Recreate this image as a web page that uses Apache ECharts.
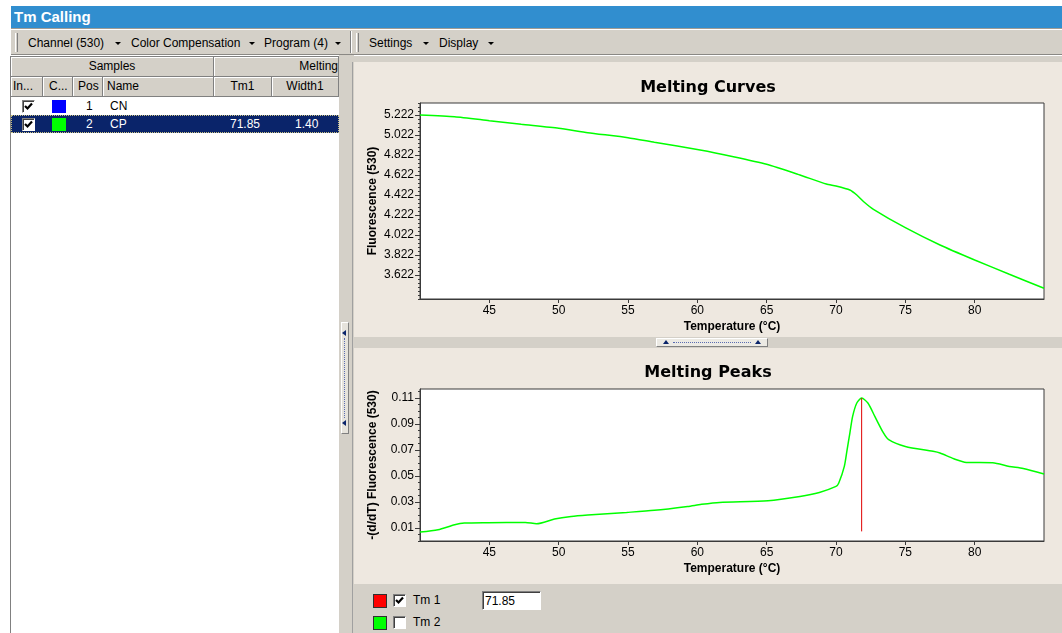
<!DOCTYPE html>
<html><head><meta charset="utf-8">
<script src="https://cdn.jsdelivr.net/npm/echarts@6/dist/echarts.min.js"></script>
<style>
body{margin:0;width:1062px;height:633px;overflow:hidden;background:#fff;font-family:'Liberation Sans',Arial,sans-serif;font-size:12px;position:relative;color:#000}
.a{position:absolute;box-sizing:border-box}
.t{position:absolute;white-space:nowrap;line-height:14px;font-size:12px}
.hd{position:absolute;box-sizing:border-box;background:#d4d0c8;border-right:1px solid #808080;border-bottom:1px solid #808080;box-shadow:inset 1px 1px #fff;overflow:hidden;white-space:nowrap;line-height:18px;font-size:12px}
.dd{position:absolute;width:0;height:0;border-left:3px solid transparent;border-right:3px solid transparent;border-top:3px solid #000}
.cb{position:absolute;width:13px;height:13px;box-sizing:border-box;background:#fff;border-top:1px solid #808080;border-left:1px solid #808080;border-right:1px solid #fff;border-bottom:1px solid #fff;box-shadow:inset 1px 1px #404040}
.sq{position:absolute;width:14px;height:14px;box-sizing:border-box;border:1px solid #303030}
</style></head><body>
<!-- title bar -->
<div class="a" style="left:11px;top:6px;width:1051px;height:22px;background:#318ecf"></div>
<div class="t" style="left:14px;top:8px;font-size:15px;line-height:18px;font-weight:bold;color:#fff">Tm Calling</div>
<!-- toolbar -->
<div class="a" style="left:11px;top:28px;width:1051px;height:27px;background:#d4d0c8;border-top:1px solid #a09c94;border-bottom:1px solid #8a8884;box-shadow:inset 0 1px #fff"></div>
<div class="a" style="left:15px;top:33px;width:3px;height:19px;border-left:1px solid #fff;border-right:1px solid #808080"></div>
<div class="a" style="left:350px;top:31px;width:2px;height:22px;border-left:1px solid #808080;border-right:1px solid #fff"></div>
<div class="a" style="left:356px;top:33px;width:3px;height:19px;border-left:1px solid #fff;border-right:1px solid #808080"></div>
<div class="t" style="left:28px;top:36px">Channel (530)</div><div class="dd" style="left:115px;top:42px"></div>
<div class="t" style="left:131px;top:36px">Color Compensation</div><div class="dd" style="left:249px;top:42px"></div>
<div class="t" style="left:264px;top:36px">Program (4)</div><div class="dd" style="left:335px;top:42px"></div>
<div class="t" style="left:369px;top:36px">Settings</div><div class="dd" style="left:423px;top:42px"></div>
<div class="t" style="left:439px;top:36px">Display</div><div class="dd" style="left:488px;top:42px"></div>
<!-- strip under toolbar -->
<div class="a" style="left:11px;top:55px;width:1051px;height:7px;background:#d4d0c8;border-top:1px solid #fff"></div>
<!-- left panel -->
<div class="a" style="left:10px;top:56px;width:329px;height:577px;background:#fff;border-left:1px solid #808080;border-top:1px solid #808080"></div>
<div id="table"></div>
<!-- vertical splitter -->
<div class="a" style="left:339px;top:55px;width:15px;height:578px;background:#d4d0c8"></div>
<div class="a" style="left:352px;top:62px;width:1px;height:571px;background:#a0a0a0"></div>
<div class="a" style="left:341px;top:322px;width:8px;height:112px;background:#e6e3dc;border-top:1px solid #fff;border-left:1px solid #fff;border-right:1px solid #808080;border-bottom:1px solid #808080"></div>
<div class="a" style="left:342px;top:330px;width:0;height:0;border-right:4px solid #0a246a;border-top:3px solid transparent;border-bottom:3px solid transparent"></div>
<div class="a" style="left:342px;top:420px;width:0;height:0;border-right:4px solid #0a246a;border-top:3px solid transparent;border-bottom:3px solid transparent"></div>
<div class="a" style="left:344px;top:338px;width:1px;height:80px;border-left:1px dotted #5a6cb0"></div>
<!-- right panel -->
<div class="a" style="left:354px;top:62px;width:708px;height:522px;background:#eee8e0"></div>
<div class="a" style="left:354px;top:584px;width:708px;height:49px;background:#d4d0c8"></div>
<div id="chart" class="a" style="left:354px;top:62px;width:708px;height:521px"></div>
<!-- horizontal splitter -->
<div class="a" style="left:354px;top:337px;width:708px;height:11px;background:#d4d0c8"></div>
<div class="a" style="left:656px;top:338px;width:112px;height:9px;background:#eceae4;border-top:1px solid #fff;border-left:1px solid #fff;border-right:1px solid #808080;border-bottom:1px solid #808080"></div>
<div class="a" style="left:663px;top:340px;width:0;height:0;border-bottom:4px solid #0a246a;border-left:3px solid transparent;border-right:3px solid transparent"></div>
<div class="a" style="left:755px;top:340px;width:0;height:0;border-bottom:4px solid #0a246a;border-left:3px solid transparent;border-right:3px solid transparent"></div>
<div class="a" style="left:673px;top:342px;width:78px;height:1px;border-top:1px dotted #5a6cb0"></div>
<!-- bottom controls -->
<div class="sq" style="left:373px;top:594px;background:#ff0000"></div>
<div class="cb" style="left:393px;top:594px"><svg width="11" height="11" style="position:absolute;left:0;top:0"><polyline points="2,5 4.5,7.5 9,2.5" fill="none" stroke="#000" stroke-width="2.2"/></svg></div>
<div class="t" style="left:413px;top:593px">Tm 1</div>
<div class="a" style="left:482px;top:591px;width:59px;height:19px;background:#fff;border-top:1px solid #808080;border-left:1px solid #808080;border-right:1px solid #fff;border-bottom:1px solid #fff;box-shadow:inset 1px 1px #404040"></div>
<div class="t" style="left:485px;top:594px" id="tmbox"></div>
<div class="sq" style="left:373px;top:616px;background:#00ff00"></div>
<div class="cb" style="left:393px;top:616px"></div>
<div class="t" style="left:413px;top:615px">Tm 2</div>

<script>
// ---- data ----
const meltTemps = [40, 42.5, 45, 47.3, 50, 52.1, 55, 56.9, 60.2, 62.6, 65, 67.4, 69.3, 70, 71, 71.5, 72, 72.7, 75, 77.5, 80, 82.5, 85];
const meltFluor = [5.222, 5.205, 5.165, 5.129, 5.089, 5.045, 4.995, 4.949, 4.872, 4.805, 4.729, 4.622, 4.532, 4.512, 4.472, 4.422, 4.355, 4.279, 4.095, 3.922, 3.772, 3.629, 3.489];
const peakTemps = [40, 41.3, 42.5, 43.2, 44.9, 47.6, 48.4, 49.7, 50.9, 52.1, 54.9, 56.9, 59.3, 60.3, 61.6, 65.1, 67.4, 68.8, 70.0, 70.2, 70.6, 70.8, 71.0, 71.2, 71.5, 71.85, 72.3, 72.8, 73.4, 73.8, 75.0, 77.0, 77.5, 78.5, 79.4, 81.3, 82.5, 83.5, 85];
const peakDeriv = [0.0069, 0.0087, 0.0125, 0.0138, 0.0141, 0.0143, 0.0133, 0.0169, 0.0189, 0.0200, 0.0220, 0.0236, 0.0266, 0.0282, 0.0297, 0.0310, 0.0343, 0.0374, 0.0420, 0.0446, 0.0574, 0.0702, 0.0831, 0.0959, 0.1062, 0.1100, 0.1062, 0.0959, 0.0836, 0.0780, 0.0728, 0.0690, 0.0677, 0.0633, 0.0605, 0.0602, 0.0574, 0.0558, 0.0515];
const tmValues = [71.85];
const tmLineRange = [0.0074, 0.11];
const xTickValues = [45, 50, 55, 60, 65, 70, 75, 80];
const curveYTicks = [3.622, 3.822, 4.022, 4.222, 4.422, 4.622, 4.822, 5.022, 5.222];
const peakYTicks = [0.01, 0.03, 0.05, 0.07, 0.09, 0.11];
const sampleIncluded = [true, true];
const sampleColors = ['#0000ff', '#00ff00'];
const samplePos = [1, 2];
const sampleNames = ['CN', 'CP'];
const sampleTm1 = ['', '71.85'];
const sampleWidth1 = ['', '1.40'];

// ---- table ----
(function(){
  const check = '<svg width="11" height="11" style="position:absolute;left:0;top:0"><polyline points="2,5 4.5,7.5 9,2.5" fill="none" stroke="#000" stroke-width="2.2"/></svg>';
  let h = '';
  h += '<div class="hd" style="left:11px;top:57px;width:203px;height:20px;text-align:center">Samples</div>';
  h += '<div class="hd" style="left:214px;top:57px;width:125px;height:20px;text-align:right;padding-right:0">Melting</div>';
  const cols = [['In...',11,32,'left',2],['C...',43,30,'left',6],['Pos',73,30,'left',5],['Name',103,111,'left',4],['Tm1',214,58,'center',0],['Width1',272,67,'center',0]];
  cols.forEach(c=>{ h += `<div class="hd" style="left:${c[1]}px;top:77px;width:${c[2]}px;height:20px;text-align:${c[3]};padding-left:${c[4]}px">${c[0]}</div>`; });
  sampleNames.forEach((n,i)=>{
    const top = 97 + i*18; const sel = i===1;
    const fg = sel ? '#fff' : '#000';
    if (sel) h += `<div class="a" style="left:11px;top:${top}px;width:328px;height:18px;background:#0a246a;border:1px dotted #c8c080"></div>`;
    h += `<div class="cb" style="left:22px;top:${top+3}px">${sampleIncluded[i]?check:''}</div>`;
    h += `<div class="a" style="left:52px;top:${top+3}px;width:14px;height:13px;background:${sampleColors[i]}"></div>`;
    h += `<div class="t" style="left:86px;top:${top+2}px;color:${fg}">${samplePos[i]}</div>`;
    h += `<div class="t" style="left:110px;top:${top+2}px;color:${fg}">${n}</div>`;
    h += `<div class="t" style="left:230px;top:${top+2}px;color:${fg}">${sampleTm1[i]}</div>`;
    h += `<div class="t" style="left:295px;top:${top+2}px;color:${fg}">${sampleWidth1[i]}</div>`;
  });
  document.getElementById('table').innerHTML = h;
  document.getElementById('tmbox').textContent = tmValues[0].toFixed(2);
})();

// ---- chart ----
const chart = echarts.init(document.getElementById('chart'), null, {renderer: 'canvas'});
const axisColor = '#3a3a3a';
const fam = "'Liberation Sans', Arial, sans-serif";
function steps(min, max, step, dec){ const a=[]; for(let k=0; min+k*step<=max+1e-9; k++) a.push(+(min+k*step).toFixed(dec)); return a; }
const curveMinor = steps(3.382, 5.342, 0.04, 3);
const peakMinor = steps(0, 0.117, 0.005, 3);
function xAx(g){ return {
  gridIndex:g, type:'value', min:40, max:85,
  axisLine:{show:true, lineStyle:{color:axisColor, width:1}},
  axisTick:{show:true, length:4, customValues:xTickValues, lineStyle:{color:axisColor}},
  axisLabel:{customValues:xTickValues, margin:6, color:'#000', fontSize:12, fontFamily:fam},
  splitLine:{show:false},
  name:'Temperature (°C)', nameLocation:'middle', nameGap:22, nameMoveOverlap:false,
  nameTextStyle:{fontWeight:'bold', fontSize:12, fontFamily:fam, color:'#000'}
};}
function yMajor(g, min, max, ticks, dec, name){ return {
  gridIndex:g, type:'value', min:min, max:max, position:'left',
  axisLine:{show:true, lineStyle:{color:axisColor, width:1}},
  axisTick:{show:true, length:5, customValues:ticks, lineStyle:{color:axisColor}},
  axisLabel:{customValues:ticks, margin:6, color:'#000', fontSize:12, fontFamily:fam, formatter:v=>(+v).toFixed(dec)},
  splitLine:{show:false},
  name:name, nameLocation:'middle', nameGap:41, nameMoveOverlap:false,
  nameTextStyle:{fontWeight:'bold', fontSize:12, fontFamily:fam, color:'#000'}
};}
function yMinor(g, min, max, ticks){ return {
  gridIndex:g, type:'value', min:min, max:max, position:'left', offset:0,
  axisLine:{show:false},
  axisTick:{show:true, length:2, customValues:ticks, lineStyle:{color:axisColor}},
  axisLabel:{show:false}, splitLine:{show:false}
};}
const titleStyle = {fontFamily:"'DejaVu Sans', sans-serif", fontWeight:'bold', fontSize:16, color:'#000'};
chart.setOption({
  animation:false,
  title:[
    {text:'Melting Curves', left:'center', top:13, textStyle:titleStyle},
    {text:'Melting Peaks', left:'center', top:298, textStyle:titleStyle}
  ],
  grid:[
    {left:66, top:41, width:624, height:196, show:true, backgroundColor:'#fff', borderColor:axisColor, borderWidth:1},
    {left:66, top:327, width:624, height:152, show:true, backgroundColor:'#fff', borderColor:axisColor, borderWidth:1}
  ],
  xAxis:[xAx(0), xAx(1)],
  yAxis:[
    yMajor(0, 3.382, 5.342, curveYTicks, 3, 'Fluorescence (530)'),
    yMinor(0, 3.382, 5.342, curveMinor),
    yMajor(1, 0, 0.117, peakYTicks, 2, '-(d/dT) Fluorescence (530)'),
    yMinor(1, 0, 0.117, peakMinor)
  ],
  series:[
    {type:'line', xAxisIndex:0, yAxisIndex:0, data:meltTemps.map((t,i)=>[t, meltFluor[i]]), showSymbol:false, smooth:0.2, lineStyle:{color:'#00ff00', width:1.5}},
    {type:'line', xAxisIndex:1, yAxisIndex:2, data:peakTemps.map((t,i)=>[t, peakDeriv[i]]), showSymbol:false, smooth:0.25, lineStyle:{color:'#00ff00', width:1.5}},
    {type:'line', xAxisIndex:1, yAxisIndex:2, data:tmLineRange.map(v=>[tmValues[0], v]), showSymbol:false, lineStyle:{color:'#e00000', width:1}}
  ]
});
</script>
</body></html>
